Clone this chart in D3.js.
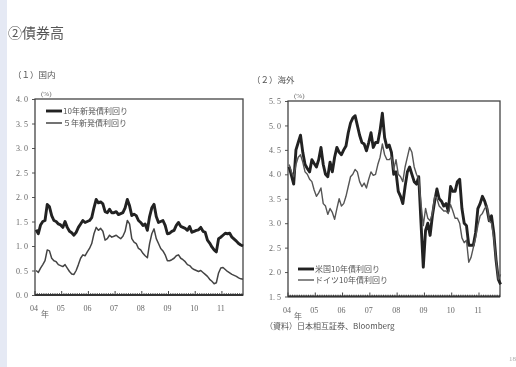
<!DOCTYPE html>
<html><head><meta charset="utf-8">
<script src="https://cdn.jsdelivr.net/npm/d3@7/dist/d3.min.js"></script>
<style>
html,body{margin:0;padding:0;background:#fff;}
svg{display:block;will-change:transform;}
.jp{font-family:"Noto Sans CJK JP","Noto Sans",sans-serif;}
.num{font-family:"Liberation Serif","DejaVu Serif",serif;}
</style></head>
<body>
<svg id="chart" width="516" height="367"></svg>
<script>
// Monthly yields, Jan 2004 - Oct 2011 (%)
const jgb10 = [
  1.33,1.25,1.43,1.50,1.52,1.85,1.80,1.62,1.52,1.50,1.45,1.43,
  1.38,1.50,1.38,1.30,1.27,1.22,1.28,1.38,1.45,1.52,1.48,1.50,
  1.52,1.58,1.78,1.95,1.88,1.90,1.86,1.70,1.68,1.75,1.68,1.68,
  1.70,1.64,1.66,1.68,1.78,1.95,1.82,1.62,1.65,1.62,1.52,1.48,
  1.42,1.45,1.32,1.60,1.78,1.85,1.60,1.48,1.50,1.52,1.42,1.25,
  1.26,1.30,1.32,1.42,1.48,1.40,1.38,1.36,1.32,1.40,1.28,1.30,
  1.32,1.33,1.38,1.30,1.28,1.12,1.06,0.98,0.92,0.88,1.15,1.18,
  1.22,1.26,1.25,1.26,1.18,1.14,1.10,1.05,1.02,1.00
];
const jgb5 = [
  0.50,0.46,0.55,0.62,0.70,0.92,0.90,0.75,0.70,0.68,0.62,0.60,
  0.58,0.62,0.55,0.48,0.43,0.42,0.50,0.62,0.75,0.82,0.80,0.88,
  0.95,1.05,1.25,1.38,1.32,1.36,1.30,1.12,1.15,1.22,1.18,1.20,
  1.22,1.18,1.15,1.20,1.30,1.52,1.45,1.15,1.08,1.05,0.95,0.92,
  0.85,0.80,0.76,1.05,1.25,1.35,1.15,1.05,0.95,0.90,0.82,0.70,
  0.70,0.72,0.75,0.80,0.82,0.75,0.72,0.68,0.62,0.60,0.55,0.52,
  0.50,0.48,0.50,0.46,0.42,0.38,0.32,0.28,0.23,0.25,0.45,0.55,
  0.56,0.52,0.48,0.45,0.42,0.40,0.38,0.35,0.33,0.32
];
const us10 = [
  4.15,3.98,3.80,4.50,4.65,4.80,4.45,4.20,4.12,4.05,4.30,4.22,
  4.15,4.30,4.55,4.20,4.00,3.95,4.25,4.05,4.35,4.55,4.45,4.40,
  4.50,4.58,4.85,5.05,5.15,5.20,5.00,4.80,4.65,4.62,4.48,4.65,
  4.85,4.55,4.65,4.65,4.90,5.25,4.75,4.55,4.60,4.45,4.00,4.05,
  3.65,3.55,3.40,3.75,4.05,4.15,4.00,3.85,3.80,3.95,3.00,2.10,
  2.85,3.00,2.75,3.15,3.45,3.70,3.50,3.45,3.35,3.40,3.25,3.75,
  3.65,3.65,3.85,3.90,3.30,3.00,2.95,2.55,2.55,2.55,2.80,3.30,
  3.40,3.55,3.45,3.30,3.05,3.15,2.80,2.25,1.85,1.75
];
const de10 = [
  4.20,4.05,3.95,4.20,4.35,4.40,4.25,4.05,4.00,3.90,3.85,3.68,
  3.55,3.62,3.72,3.40,3.35,3.18,3.30,3.22,3.08,3.30,3.50,3.35,
  3.40,3.55,3.75,3.95,4.00,4.10,4.05,3.85,3.75,3.82,3.72,3.90,
  4.05,3.98,4.00,4.20,4.35,4.62,4.40,4.30,4.30,4.35,4.10,4.30,
  4.00,3.95,3.85,4.15,4.35,4.55,4.45,4.15,4.00,3.90,3.40,2.95,
  3.30,3.10,3.05,3.20,3.55,3.50,3.35,3.30,3.25,3.25,3.20,3.38,
  3.25,3.10,3.10,3.00,2.70,2.60,2.65,2.20,2.30,2.50,2.70,2.95,
  3.15,3.20,3.30,3.35,3.05,3.00,2.70,2.25,1.85,1.95
];
const yearLabels = ["04","05","06","07","08","09","10","11"];
const domTicks = [0.0,0.5,1.0,1.5,2.0,2.5,3.0,3.5,4.0];
const ovsTicks = [1.5,2.0,2.5,3.0,3.5,4.0,4.5,5.0,5.5];
const domLegend = ["10年新発債利回り","５年新発債利回り"];
const ovsLegend = ["米国10年債利回り","ドイツ10年債利回り"];

const svg = d3.select("#chart");
// left page strip
svg.append("rect").attr("x",0).attr("y",0).attr("width",7).attr("height",367).attr("fill","#e5e9f4");
svg.append("text").attr("class","jp").attr("x",8).attr("y",38).attr("font-size",14)
  .attr("fill","#555").text("②債券高");
svg.append("text").attr("class","num").attr("x",509).attr("y",361).attr("font-size",7)
  .attr("fill","#aaa").text("18");

const monthT = i => 2004 + i/12 + 1/24;

function panel(cfg){
  const g = svg.append("g");
  const x = d3.scaleLinear().domain([2004, cfg.xEnd]).range([cfg.left, cfg.right]);
  const y = d3.scaleLinear().domain(cfg.yDomain).range([cfg.bottom, cfg.top]);

  g.append("text").attr("class","jp").attr("x",cfg.titleX).attr("y",cfg.titleY)
    .attr("font-size",8.5).attr("fill","#555").text(cfg.title);
  g.append("text").attr("class","num").attr("x",cfg.left+6).attr("y",cfg.top-3)
    .attr("font-size",7).attr("fill","#666").text("(%)");

  // y axis
  const ya = g.append("g").attr("transform",`translate(${cfg.left},0)`)
    .call(d3.axisLeft(y).tickValues(cfg.yTicks).tickSize(3).tickPadding(4)
      .tickFormat(d => d3.format(".1f")(d).replace(".", ". ")));
  ya.select(".domain").remove();
  ya.selectAll("line").attr("stroke","#555");
  ya.selectAll("text").attr("class","num").attr("font-size",8).attr("fill","#666");

  // frame
  g.append("rect").attr("x",cfg.left).attr("y",cfg.top)
    .attr("width",cfg.right-cfg.left).attr("height",cfg.bottom-cfg.top)
    .attr("fill","none").attr("stroke","#444").attr("stroke-width",1.3);

  // bottom axis: monthly minor ticks, yearly major ticks
  const months = d3.range(0, Math.floor((cfg.xEnd-2004)*12)+1).map(i => 2004 + i/12);
  g.append("g").selectAll("line").data(months).join("line")
    .attr("x1",d=>x(d)).attr("x2",d=>x(d))
    .attr("y1",cfg.bottom).attr("y2",(d,i)=> i%12===0 ? cfg.bottom-4 : cfg.bottom-1.8)
    .attr("stroke","#444").attr("stroke-width",1);
  g.append("line").attr("x1",cfg.left).attr("x2",cfg.right)
    .attr("y1",cfg.bottom).attr("y2",cfg.bottom).attr("stroke","#333").attr("stroke-width",2);
  g.append("g").selectAll("text").data(yearLabels).join("text")
    .attr("class","num").attr("x",(d,i)=>x(2004+i)-1).attr("y",cfg.bottom+16)
    .attr("text-anchor","middle").attr("font-size",8).attr("fill","#666").text(d=>d);
  g.append("text").attr("class","jp").attr("x",x(2004)+10).attr("y",cfg.bottom+22)
    .attr("text-anchor","middle").attr("font-size",8).attr("fill","#666").text("年");

  // series
  const line = d3.line().x((d,i)=>x(monthT(i))).y(d=>y(d)).curve(d3.curveLinear);
  cfg.series.forEach(s => {
    g.append("path").datum(s.values).attr("d",line).attr("fill","none")
      .attr("stroke",s.color).attr("stroke-width",s.width).attr("stroke-linejoin","round");
  });

  // legend
  cfg.legend.forEach((lab,i) => {
    const s = cfg.series[i];
    const ly = cfg.legY + i*cfg.legGap;
    g.append("line").attr("x1",cfg.legX).attr("x2",cfg.legX+16).attr("y1",ly).attr("y2",ly)
      .attr("stroke",s.color).attr("stroke-width",s.width);
    g.append("text").attr("class","jp").attr("x",cfg.legX+17).attr("y",ly+3)
      .attr("font-size",8).attr("fill","#555").text(lab);
  });
}

panel({
  title:"（１）国内", titleX:13, titleY:78,
  left:35, right:243, top:99, bottom:295, xEnd:2011.79,
  yDomain:[0,4], yTicks:domTicks,
  series:[{values:jgb10,color:"#222",width:2.9},{values:jgb5,color:"#444",width:1.5}],
  legend:domLegend, legX:46, legY:111, legGap:12
});
panel({
  title:"（２）海外", titleX:252, titleY:83,
  left:288, right:500, top:101, bottom:296.5, xEnd:2011.77,
  yDomain:[1.5,5.5], yTicks:ovsTicks,
  series:[{values:us10,color:"#222",width:2.9},{values:de10,color:"#555",width:1.4}],
  legend:ovsLegend, legX:298, legY:269, legGap:11
});

svg.append("text").attr("class","jp").attr("x",265).attr("y",329).attr("font-size",8)
  .attr("fill","#555").text("（資料）日本相互証券、Bloomberg");
</script>
</body></html>
